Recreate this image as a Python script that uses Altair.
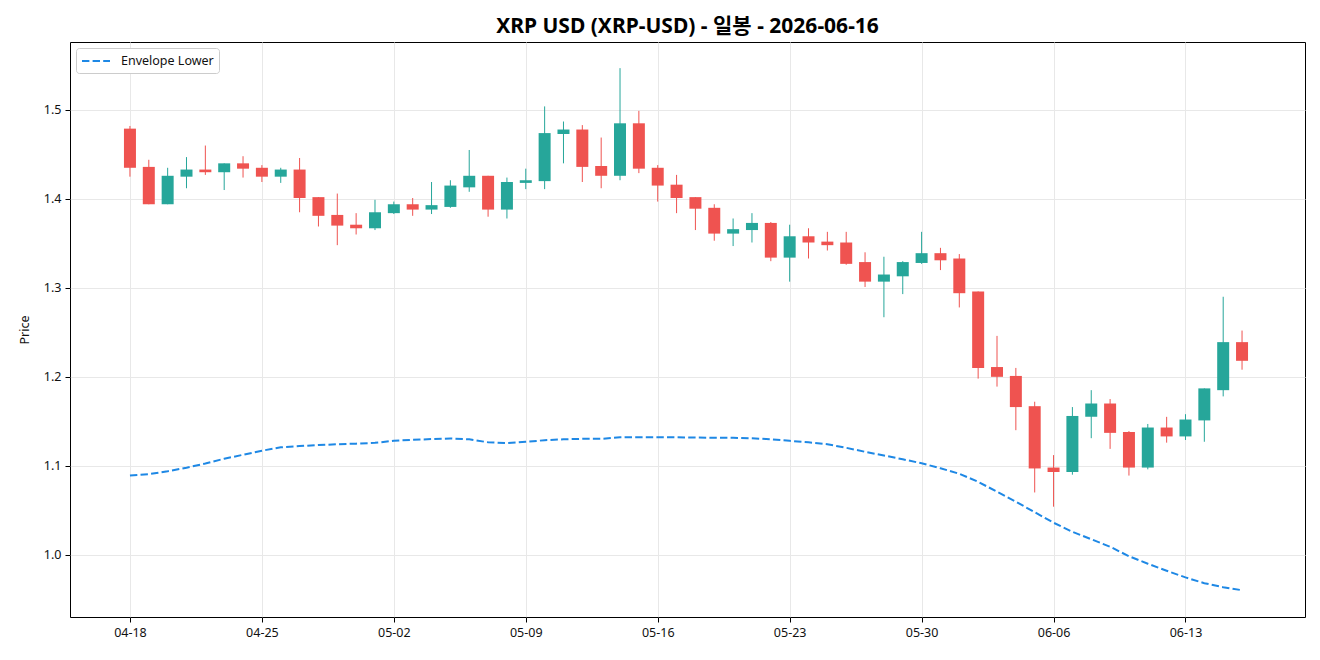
import altair as alt
import pandas as pd

dates = pd.date_range("2026-04-18", periods=60, freq="D").strftime("%Y-%m-%d").tolist()

opens = [1.479, 1.436, 1.394, 1.425, 1.433, 1.430, 1.440, 1.435, 1.425, 1.433,
         1.402, 1.382, 1.371, 1.367, 1.384, 1.394, 1.388, 1.391, 1.413, 1.426,
         1.388, 1.418, 1.420, 1.473, 1.478, 1.437, 1.426, 1.485, 1.435, 1.416,
         1.402, 1.390, 1.361, 1.365, 1.373, 1.334, 1.358, 1.352, 1.351, 1.329,
         1.307, 1.313, 1.328, 1.339, 1.333, 1.296, 1.211, 1.201, 1.167, 1.098,
         1.093, 1.155, 1.170, 1.138, 1.098, 1.143, 1.133, 1.151, 1.185, 1.239]
highs = [1.482, 1.444, 1.435, 1.447, 1.460, 1.440, 1.448, 1.438, 1.435, 1.446,
         1.402, 1.406, 1.384, 1.399, 1.397, 1.401, 1.419, 1.421, 1.455, 1.426,
         1.424, 1.434, 1.504, 1.487, 1.483, 1.469, 1.547, 1.499, 1.438, 1.427,
         1.402, 1.394, 1.378, 1.384, 1.374, 1.371, 1.367, 1.363, 1.363, 1.340,
         1.335, 1.330, 1.363, 1.345, 1.338, 1.296, 1.246, 1.210, 1.172, 1.112,
         1.166, 1.185, 1.175, 1.139, 1.147, 1.155, 1.158, 1.187, 1.290, 1.252]
lows = [1.425, 1.394, 1.394, 1.412, 1.427, 1.410, 1.424, 1.419, 1.418, 1.385,
        1.369, 1.348, 1.360, 1.365, 1.383, 1.381, 1.383, 1.390, 1.408, 1.380,
        1.378, 1.411, 1.411, 1.440, 1.419, 1.412, 1.421, 1.429, 1.397, 1.384,
        1.365, 1.353, 1.347, 1.351, 1.330, 1.307, 1.333, 1.342, 1.326, 1.301,
        1.267, 1.293, 1.327, 1.320, 1.278, 1.198, 1.189, 1.140, 1.070, 1.054,
        1.090, 1.131, 1.119, 1.089, 1.096, 1.126, 1.129, 1.127, 1.178, 1.208]
closes = [1.435, 1.394, 1.426, 1.433, 1.430, 1.440, 1.434, 1.425, 1.433, 1.401,
          1.381, 1.370, 1.367, 1.385, 1.394, 1.388, 1.393, 1.415, 1.426, 1.388,
          1.419, 1.421, 1.474, 1.478, 1.436, 1.426, 1.485, 1.434, 1.415, 1.401,
          1.389, 1.361, 1.366, 1.373, 1.334, 1.358, 1.351, 1.348, 1.327, 1.307,
          1.315, 1.329, 1.339, 1.331, 1.294, 1.210, 1.200, 1.166, 1.097, 1.093,
          1.156, 1.170, 1.137, 1.098, 1.143, 1.133, 1.152, 1.187, 1.239, 1.218]
env_lower = [1.0891, 1.0906, 1.0938, 1.0978, 1.1026, 1.1079, 1.1124, 1.1169, 1.1208, 1.1221,
             1.1233, 1.1242, 1.1249, 1.1258, 1.1281, 1.1292, 1.1300, 1.1307, 1.1298, 1.1264,
             1.1255, 1.1270, 1.1287, 1.1298, 1.1303, 1.1303, 1.1320, 1.1322, 1.1322, 1.1320,
             1.1318, 1.1315, 1.1315, 1.1309, 1.1298, 1.1281, 1.1264, 1.1242, 1.1202, 1.1157,
             1.1116, 1.1073, 1.1028, 1.0972, 1.0910, 1.0820, 1.0708, 1.0596, 1.0478, 1.0360,
             1.0258, 1.0174, 1.0090, 0.9983, 0.9899, 0.9820, 0.9745, 0.9680, 0.9635, 0.9601]

tick_dates = [(4, 18), (4, 25), (5, 2), (5, 9), (5, 16), (5, 23), (5, 30), (6, 6), (6, 13)]
y_ticks = [1.0, 1.1, 1.2, 1.3, 1.4, 1.5]

UP = "#26a69a"
DOWN = "#ef5350"
FONT = "Noto Sans, Noto Sans CJK KR"
DASH = [7.4, 3.2]

df = pd.DataFrame({"date": dates, "open": opens, "high": highs, "low": lows, "close": closes})
df["dir"] = ["up" if c >= o else "down" for o, c in zip(opens, closes)]
env = pd.DataFrame({"date": dates, "value": env_lower, "series": ["Envelope Lower"] * len(dates)})

xscale = alt.Scale(
    type="utc", nice=False, padding=0,
    domain=[alt.DateTime(year=2026, month=4, date=14, hours=19, minutes=40, utc=True),
            alt.DateTime(year=2026, month=6, date=19, hours=8, minutes=10, utc=True)],
)
axis_common = dict(
    domain=False, tickColor="#000", tickSize=5, tickWidth=1, labelPadding=4,
    labelFontSize=12.5, labelFont=FONT, labelColor="#111",
    gridColor="#e8e8e8", gridWidth=1,
)
xaxis = alt.Axis(
    values=[alt.DateTime(year=2026, month=m, date=d, utc=True) for m, d in tick_dates],
    labelExpr="utcFormat(datum.value, '%m-%d')", title=None, labelAngle=0,
    **axis_common,
)
yscale = alt.Scale(domain=[0.930, 1.5764], nice=False, zero=False)
yaxis = alt.Axis(values=y_ticks, format=".1f", title="Price", titlePadding=12,
                 titleFontWeight="normal", titleFontSize=12.5, titleFont=FONT,
                 titleColor="#111", **axis_common)

color = alt.Color("dir:N", scale=alt.Scale(domain=["up", "down"], range=[UP, DOWN]), legend=None)

base = alt.Chart(df)
wicks = base.mark_rule(strokeWidth=1).encode(
    x=alt.X("date:T", scale=xscale, axis=xaxis),
    y=alt.Y("low:Q", scale=yscale, axis=yaxis),
    y2="high:Q",
    color=color,
)
bodies = base.mark_bar(size=12, strokeWidth=0.8, strokeOpacity=0.6).encode(
    x=alt.X("date:T", scale=xscale, axis=xaxis),
    y=alt.Y("open:Q", scale=yscale, axis=yaxis),
    y2="close:Q",
    color=color,
)
line = alt.Chart(env).mark_line(strokeDash=DASH, strokeWidth=2).encode(
    x=alt.X("date:T", scale=xscale, axis=xaxis),
    y=alt.Y("value:Q", scale=yscale, axis=yaxis),
    stroke=alt.Stroke(
        "series:N",
        scale=alt.Scale(domain=["Envelope Lower"], range=["#1e88e5"]),
        legend=alt.Legend(
            title=None, orient="top-left", offset=6, padding=5,
            strokeColor="#cccccc", fillColor="white", cornerRadius=3,
            symbolType="M-1,0H3", symbolStrokeWidth=2, symbolDash=DASH,
            symbolSize=196, symbolFillColor="transparent",
            labelOffset=24, labelFontSize=12.5, labelFont=FONT, labelColor="#111",
        ),
    ),
)

chart = alt.layer(wicks, bodies, line).properties(
    width=1235,
    height=575,
    title=alt.TitleParams(
        "XRP USD (XRP-USD) - 일봉 - 2026-06-16",
        fontSize=21, fontWeight="bold", font=FONT, anchor="middle", offset=5, color="#000",
    ),
    autosize=alt.AutoSizeParams(type="none"),
    padding={"left": 70, "top": 42, "right": 15, "bottom": 43},
).configure(
    background="white",
).configure_view(
    stroke="#000", strokeWidth=1, fill="white",
)

chart.save("out.html", embed_options={"renderer": "svg", "actions": False})
